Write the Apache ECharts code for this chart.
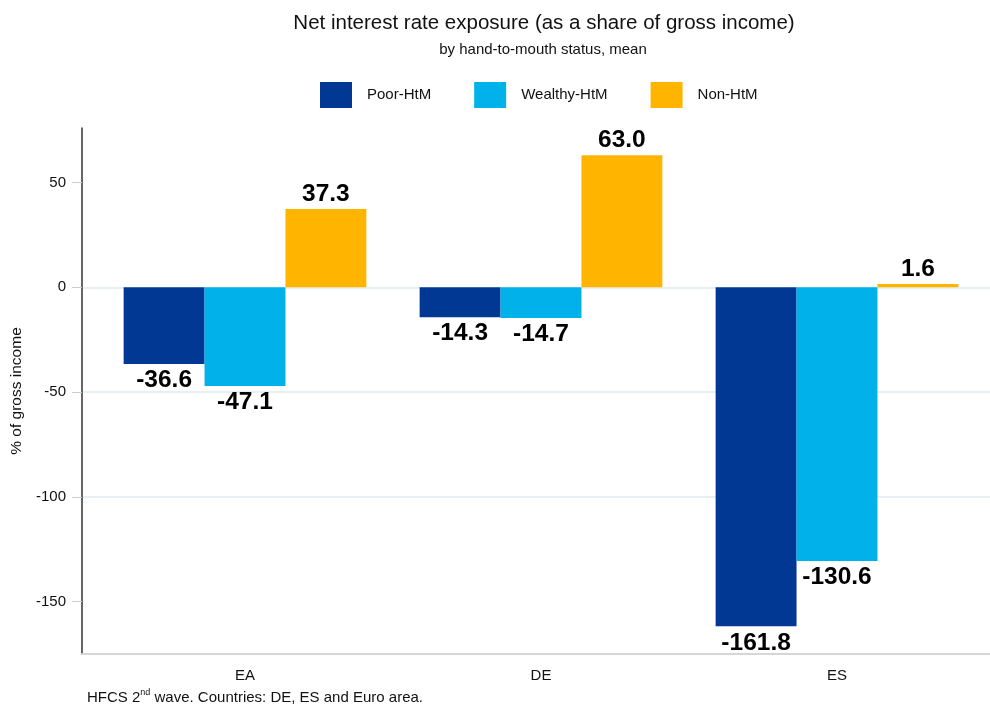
<!DOCTYPE html>
<html>
<head>
<meta charset="utf-8">
<script src="https://cdn.jsdelivr.net/npm/echarts@6/dist/echarts.min.js"></script>
<style>
html,body{margin:0;padding:0;background:#fff;}
#chart{width:990px;height:705px;}
</style>
</head>
<body>
<div id="chart"></div>
<script>
const categories = ['EA', 'DE', 'ES'];
const seriesNames = ['Poor-HtM', 'Wealthy-HtM', 'Non-HtM'];
const poorHtM = [-36.6, -14.3, -161.8];
const wealthyHtM = [-47.1, -14.7, -130.6];
const nonHtM = [37.3, 63.0, 1.6];
const tickValues = [-150, -100, -50, 0, 50];
const yMin = -175;
const yMax = 76;

const colors = ['#003893', '#00b1ea', '#ffb400'];
const FONT = 'Liberation Sans, Arial, sans-serif';

function makeData(vals) {
  return vals.map(v => ({
    value: v,
    label: v < 0 ? { position: 'bottom', distance: 4 } : { position: 'top', distance: 2 }
  }));
}

const seriesValues = [poorHtM, wealthyHtM, nonHtM];

const chart = echarts.init(document.getElementById('chart'));
chart.setOption({
  backgroundColor: '#ffffff',
  animation: false,
  textStyle: { fontFamily: FONT },
  color: colors,
  title: [
    {
      text: 'Net interest rate exposure (as a share of gross income)',
      left: 544, top: 13, padding: 0, textAlign: 'center',
      textStyle: { fontSize: 20.5, fontWeight: 'normal', color: '#111', fontFamily: FONT }
    },
    {
      text: 'by hand-to-mouth status, mean',
      left: 543, top: 42, padding: 0, textAlign: 'center',
      textStyle: { fontSize: 15, fontWeight: 'normal', color: '#111', fontFamily: FONT }
    },
    {
      text: '{a|HFCS 2}{s|nd}{a| wave. Countries: DE, ES and Euro area.}',
      left: 87, top: 688, padding: 0,
      textStyle: {
        fontFamily: FONT, fontWeight: 'normal',
        rich: {
          a: { fontSize: 15, fontWeight: 'normal', color: '#111', fontFamily: FONT, verticalAlign: 'bottom', lineHeight: 17 },
          s: { fontSize: 9, fontWeight: 'normal', color: '#111', fontFamily: FONT, verticalAlign: 'top', lineHeight: 17 }
        }
      }
    }
  ],
  legend: {
    data: seriesNames,
    left: 320, top: 82, padding: 0,
    itemWidth: 32, itemHeight: 26, itemGap: 43,
    icon: 'rect',
    textStyle: { fontSize: 15, color: '#111', fontFamily: FONT, padding: [0, 0, 0, 10] }
  },
  grid: [
    { left: 97, right: 5, top: 128, bottom: 51 },
    { left: 82, right: 0, top: 128, bottom: 51 }
  ],
  xAxis: [
    {
      type: 'category', gridIndex: 0, data: categories,
      axisLine: { show: false, onZero: false },
      axisTick: { show: false },
      axisLabel: { margin: 14, fontSize: 15, color: '#111', fontFamily: FONT },
      splitLine: { show: false }
    },
    {
      type: 'value', gridIndex: 1, min: 0, max: 1,
      axisLine: { show: true, onZero: false, lineStyle: { color: '#d6d6d6', width: 2 } },
      axisTick: { show: false },
      axisLabel: { show: false },
      splitLine: { show: false }
    }
  ],
  yAxis: [
    {
      type: 'value', gridIndex: 0, min: yMin, max: yMax, show: false,
      splitLine: { show: false }
    },
    {
      type: 'value', gridIndex: 1, min: yMin, max: yMax,
      name: '% of gross income', nameLocation: 'middle', nameGap: 56,
      nameTextStyle: { fontSize: 15.5, color: '#111', fontFamily: FONT },
      axisLine: { show: true, onZero: false, lineStyle: { color: '#333', width: 1.5 } },
      axisTick: { show: true, length: 10, customValues: tickValues, lineStyle: { color: '#cccccc', width: 1 } },
      axisLabel: { customValues: tickValues, margin: 16, fontSize: 15, color: '#111', fontFamily: FONT },
      splitLine: { show: true, showMinLine: false, showMaxLine: false, lineStyle: { color: '#e8eff2', width: 2 } }
    }
  ],
  series: seriesNames.map((name, i) => ({
    name: name,
    type: 'bar',
    xAxisIndex: 0, yAxisIndex: 0,
    barGap: '0%', barCategoryGap: '18%',
    data: makeData(seriesValues[i]),
    itemStyle: { color: colors[i] },
    label: {
      show: true,
      fontSize: 24.5, fontWeight: 'bold', color: '#000', fontFamily: FONT,
      formatter: p => p.value.toFixed(1)
    }
  }))
});
</script>
</body>
</html>
